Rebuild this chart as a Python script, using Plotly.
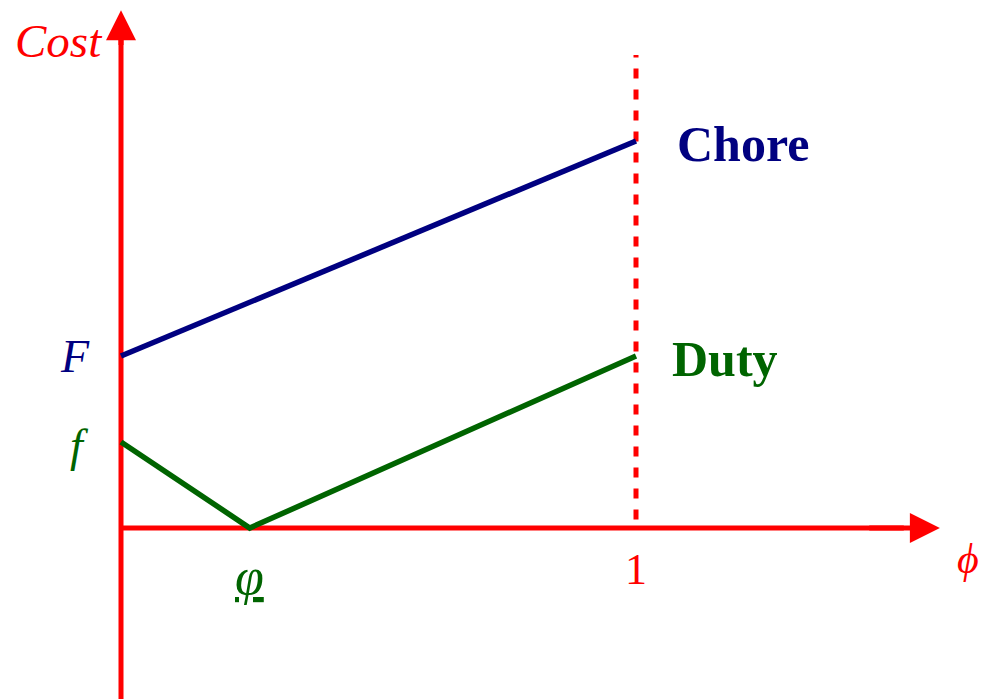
import plotly.graph_objects as go

# cost curves against phi (1 unit on y = value of F)
chore_phi = [0, 1]
chore_cost = [1.0, 2.25]
duty_phi = [0, 0.25, 1]
duty_cost = [0.5, 0.0, 1.0]

F_level = 1.0
f_level = 0.5
phi_low = 0.25

RED = 'red'
NAVY = '#000080'
GREEN = '#006400'
SERIF = 'Liberation Serif'

# the page body adds an 8px margin, so the figure is a bit smaller
W, H = 981, 691
X0, Y0 = 121 - 8, 528 - 8      # origin in figure pixels
UX, UY = 515, 172             # pixels per unit

fig = go.Figure()

# dashed boundary at phi = 1
fig.add_trace(go.Scatter(
    x=[1, 1], y=[0.05, 2.75], mode='lines',
    line=dict(color=RED, width=5, dash='10px,11px'),
    hoverinfo='skip'
))

# axes
fig.add_trace(go.Scatter(
    x=[0, 0], y=[-1.05, 2.9], mode='lines',
    line=dict(color=RED, width=5), hoverinfo='skip'
))
fig.add_trace(go.Scatter(
    x=[0, 1.52], y=[0, 0], mode='lines',
    line=dict(color=RED, width=5), hoverinfo='skip'
))

fig.add_trace(go.Scatter(
    x=chore_phi, y=chore_cost, mode='lines',
    line=dict(color=NAVY, width=5.5), name='Chore'
))
fig.add_trace(go.Scatter(
    x=duty_phi, y=duty_cost, mode='lines',
    line=dict(color=GREEN, width=5.5), name='Duty'
))

# arrow heads
for tip, tail in [((0, 3.01), (0, 2.8)), ((1.59, 0), (1.45, 0))]:
    fig.add_annotation(
        x=tip[0], y=tip[1], ax=tail[0], ay=tail[1],
        xref='x', yref='y', axref='x', ayref='y',
        showarrow=True, arrowhead=2, arrowsize=1.2, arrowwidth=5,
        arrowcolor=RED, text=''
    )

labels = [
    ('<i>Cost</i>', -0.122, 2.83, RED, 47),
    ('<i>F</i>', -0.09, F_level, NAVY, 46),
    ('<i>f</i>', -0.08, f_level - 0.02, GREEN, 46),
    ('<i><u>φ</u></i>', phi_low, -0.28, GREEN, 52),
    ('1', 1, -0.24, RED, 44),
    ('<i>ϕ</i>', 1.645, -0.18, RED, 42),
    ('<b>Chore</b>', 1.208, 2.23, NAVY, 50),
    ('<b>Duty</b>', 1.172, 0.98, GREEN, 50),
]
for text, x, y, color, size in labels:
    fig.add_annotation(
        x=x, y=y, xref='x', yref='y', text=text, showarrow=False,
        font=dict(family=SERIF, size=size, color=color)
    )

fig.update_layout(
    width=W, height=H,
    margin=dict(l=0, r=0, t=0, b=0),
    plot_bgcolor='white', paper_bgcolor='white',
    showlegend=False,
    xaxis=dict(range=[-X0 / UX, (W - X0) / UX], visible=False),
    yaxis=dict(range=[-(H - Y0) / UY, Y0 / UY], visible=False),
)

fig.write_html("out.html")
